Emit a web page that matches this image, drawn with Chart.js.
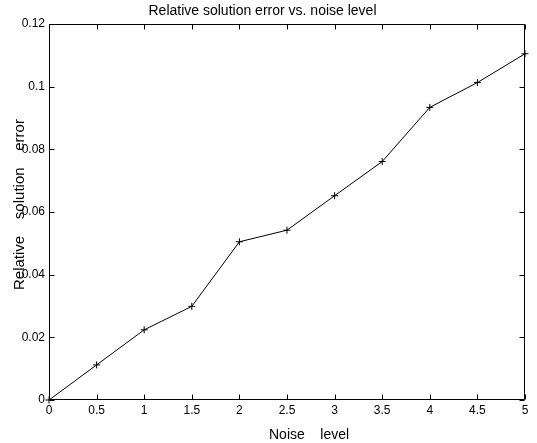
<!DOCTYPE html>
<html><head><meta charset="utf-8">
<style>html,body{margin:0;padding:0;background:#fff}#wrap{width:537px;height:443px}</style>
<script src="https://cdn.jsdelivr.net/npm/chart.js@4/dist/chart.umd.min.js"></script>
</head><body><div id="wrap"><canvas id="c" width="537" height="443"></canvas></div>
<script>
const noiseLevels = [0, 0.5, 1, 1.5, 2, 2.5, 3, 3.5, 4, 4.5, 5];
const relErrors   = [0, 0.0112, 0.0224, 0.0299, 0.0505, 0.0542, 0.0652, 0.0761, 0.0934, 0.1013, 0.1105];
const xTickValues = [0, 0.5, 1, 1.5, 2, 2.5, 3, 3.5, 4, 4.5, 5];
const yTickValues = [0, 0.02, 0.04, 0.06, 0.08, 0.1, 0.12];
const titleText = 'Relative solution error vs. noise level';
const xTitle = 'Noise    level';
const yTitle = 'Relative    solution    error';

const FONT = 'Liberation Sans, Arial, Helvetica, sans-serif';

const boxPlugin = {
  id: 'box',
  afterDatasetsDraw(chart) {
    const {ctx, chartArea: a, scales: {x, y}} = chart;
    const L = Math.round(a.left) + 0.5, R = Math.round(a.right) - 0.5;
    const T = Math.round(a.top) + 0.5, B = Math.round(a.bottom) - 0.5;
    ctx.save();
    ctx.strokeStyle = '#000';
    ctx.lineWidth = 1;
    ctx.beginPath();
    ctx.rect(L, T, R - L, B - T);
    const len = 5;
    xTickValues.forEach(v => {
      const px = Math.round(x.getPixelForValue(v)) + 0.5;
      ctx.moveTo(px, B); ctx.lineTo(px, B - len);
      ctx.moveTo(px, T); ctx.lineTo(px, T + len);
    });
    yTickValues.forEach(v => {
      const py = Math.round(y.getPixelForValue(v)) + 0.5;
      ctx.moveTo(L, py); ctx.lineTo(L + len, py);
      ctx.moveTo(R, py); ctx.lineTo(R - len, py);
    });
    ctx.stroke();

    // axis titles
    ctx.fillStyle = '#000';
    ctx.textBaseline = 'middle';
    ctx.textAlign = 'left';
    ctx.font = '14px ' + FONT;
    ctx.fillText(xTitle, a.left + 220, chart.height - 8);
    ctx.font = '15px ' + FONT;
    ctx.translate(20, a.bottom - 110);
    ctx.rotate(-Math.PI / 2);
    ctx.fillText(yTitle, 0, 0);
    ctx.restore();
  }
};

new Chart(document.getElementById('c'), {
  type: 'line',
  data: {
    datasets: [{
      data: noiseLevels.map((n, i) => ({x: n, y: relErrors[i]})),
      borderColor: '#000',
      backgroundColor: '#000',
      borderWidth: 1,
      pointStyle: 'cross',
      pointRadius: 3.5,
      pointBorderWidth: 1,
      pointBorderColor: '#000',
      tension: 0,
      fill: false,
      clip: false
    }]
  },
  options: {
    responsive: false,
    devicePixelRatio: 1,
    animation: false,
    layout: {padding: {left: 0, right: 12, top: 0, bottom: 0}},
    plugins: {
      legend: {display: false},
      tooltip: {enabled: false},
      title: {
        display: true,
        text: titleText,
        color: '#000',
        fullSize: true,
        font: {family: FONT, size: 14, weight: 'normal', lineHeight: 1},
        padding: {top: 4.5, bottom: 5.5}
      }
    },
    scales: {
      x: {
        type: 'linear',
        min: 0, max: 5,
        afterBuildTicks: s => { s.ticks = xTickValues.map(v => ({value: v})); },
        afterFit: s => { s.height = 43; },
        grid: {display: false, drawTicks: false},
        border: {display: false},
        ticks: {
          color: '#000', padding: 3, maxRotation: 0, autoSkip: false,
          font: {family: FONT, size: 12},
          callback: v => String(v)
        },
        title: {display: false}
      },
      y: {
        type: 'linear',
        min: 0, max: 0.12,
        afterBuildTicks: s => { s.ticks = yTickValues.map(v => ({value: v})); },
        afterFit: s => { s.width = 49; },
        grid: {display: false, drawTicks: false},
        border: {display: false},
        ticks: {
          color: '#000', padding: 4, autoSkip: false,
          font: {family: FONT, size: 12},
          callback: v => String(v)
        },
        title: {display: false}
      }
    }
  },
  plugins: [boxPlugin]
});
</script>
</body></html>
